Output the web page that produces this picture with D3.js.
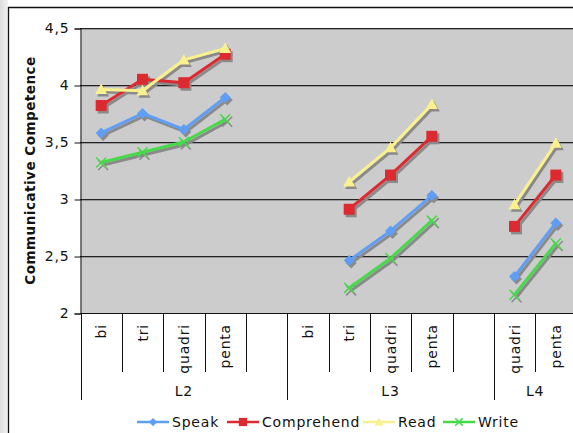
<!DOCTYPE html>
<html><head><meta charset="utf-8">
<script src="https://cdn.jsdelivr.net/npm/d3@7"></script>
<style>body{margin:0;background:#fff}svg{display:block}</style>
</head><body>
<script>
const categories = ["bi","tri","quadri","penta","","bi","tri","quadri","penta","","quadri","penta"];
const groups = [{name:"L2", start:0, end:5},{name:"L3", start:5, end:10},{name:"L4", start:10, end:12}];
const speak      = [3.58, 3.75, 3.61, 3.89, null, null, 2.46, 2.72, 3.03, null, 2.32, 2.79];
const comprehend = [3.82, 4.05, 4.02, 4.27, null, null, 2.91, 3.21, 3.55, null, 2.76, 3.21];
const read       = [3.96, 3.95, 4.22, 4.32, null, null, 3.15, 3.45, 3.83, null, 2.95, 3.49];
const write      = [3.32, 3.41, 3.50, 3.70, null, null, 2.22, 2.48, 2.81, null, 2.16, 2.61];
const yTicks = [2, 2.5, 3, 3.5, 4, 4.5];
const yTickLabels = ["2","2,5","3","3,5","4","4,5"];
const seriesNames = ["Speak","Comprehend","Read","Write"];

const series = [
  {name:seriesNames[0], values:speak, color:"#5f9ef5", shape:"diamond"},
  {name:seriesNames[1], values:comprehend, color:"#dc2a30", shape:"square"},
  {name:seriesNames[2], values:read, color:"#fbf08e", shape:"triangle"},
  {name:seriesNames[3], values:write, color:"#47d94a", shape:"x"}
];

const W = 573, H = 433;
const svg = d3.select("body").append("svg").attr("width", W).attr("height", H);
const font = "DejaVu Sans, Verdana, sans-serif";
const fs = 14, ls = 0.8;

// outer frame background
const grad = svg.append("defs").append("linearGradient").attr("id","lg").attr("x1","0").attr("x2","1");
grad.append("stop").attr("offset","0").attr("stop-color","#dcdcdc");
grad.append("stop").attr("offset","1").attr("stop-color","#f2f2f2");
svg.append("rect").attr("x",0).attr("y",0).attr("width",8).attr("height",H).attr("fill","url(#lg)");
svg.append("line").attr("x1",8.5).attr("x2",8.5).attr("y1",7).attr("y2",H).attr("stroke","#111").attr("stroke-width",1.3);
svg.append("line").attr("x1",8).attr("x2",W).attr("y1",7.5).attr("y2",7.5).attr("stroke","#111").attr("stroke-width",1.3);

const x = d3.scaleBand().domain(d3.range(categories.length)).range([80.5, 576.5]).padding(0);
const y = d3.scaleLinear().domain([2, 4.5]).range([313, 28]);

// plot area
svg.append("rect").attr("x",80.5).attr("y",y(4.5)).attr("width",500).attr("height",y(2)-y(4.5)).attr("fill","#cccccc");

// gridlines
yTicks.forEach(t => {
  if (t === 2) return;
  svg.append("line").attr("x1",80).attr("x2",W).attr("y1",y(t)+1.5).attr("y2",y(t)+1.5).attr("stroke","#999").attr("stroke-width",1);
  svg.append("line").attr("x1",80).attr("x2",W).attr("y1",y(t)+0.5).attr("y2",y(t)+0.5).attr("stroke","#222").attr("stroke-width",1);
});

// y axis
const yAxis = d3.axisLeft(y).tickValues(yTicks).tickFormat((d,i)=>yTickLabels[i]).tickSize(6).tickPadding(5);
const ya = svg.append("g").attr("transform","translate(80.5,0.5)").call(yAxis);
ya.select(".domain").attr("stroke","#111");
ya.selectAll(".tick line").attr("stroke","#111");
ya.selectAll("text").attr("font-family",font).attr("font-size",fs).attr("letter-spacing",ls).attr("fill","#111");

// x axis baseline
svg.append("line").attr("x1",80).attr("x2",W).attr("y1",313.5).attr("y2",313.5).attr("stroke","#111");

// category tick lines
const boundaries = d3.range(categories.length+1);
const groupStarts = new Set(groups.map(g=>g.start).concat([categories.length]));
boundaries.forEach(b => {
  const bx = (b < categories.length ? x(b) : x(b-1)+x.bandwidth());
  svg.append("line").attr("x1",Math.round(bx)+0.5).attr("x2",Math.round(bx)+0.5)
    .attr("y1",313).attr("y2", groupStarts.has(b) ? 400 : 372)
    .attr("stroke","#111").attr("stroke-width",1);
});

// category labels
categories.forEach((c,i) => {
  if (!c) return;
  svg.append("text")
    .attr("transform",`translate(${x(i)+x.bandwidth()/2},324) rotate(-90)`)
    .attr("text-anchor","end").attr("dy","0.36em")
    .attr("font-family",font).attr("font-size",fs).attr("letter-spacing",ls).attr("fill","#111")
    .text(c);
});

// group labels
groups.forEach(g => {
  const gx = (x(g.start) + x(g.end-1) + x.bandwidth())/2;
  svg.append("text").attr("x",gx).attr("y",396).attr("text-anchor","middle")
    .attr("font-family",font).attr("font-size",fs).attr("letter-spacing",ls).attr("fill","#111").text(g.name);
});

// y title
svg.append("text").attr("transform",`translate(35,${(y(2)+y(4.5))/2}) rotate(-90)`)
  .attr("text-anchor","middle").attr("font-family",font).attr("font-weight","bold")
  .attr("font-size",13.5).attr("letter-spacing",0.5).attr("fill","#111").text("Communicative Competence");

function marker(g, shape, cx, cy, color, scale) {
  const s = scale || 1;
  if (shape === "diamond") {
    const r = 5.5*s;
    g.append("path").attr("d",`M${cx},${cy-r}L${cx+r},${cy}L${cx},${cy+r}L${cx-r},${cy}Z`).attr("fill",color);
  } else if (shape === "square") {
    const r = 5.5*s;
    g.append("rect").attr("x",cx-r).attr("y",cy-r).attr("width",2*r).attr("height",2*r).attr("fill",color);
  } else if (shape === "triangle") {
    const r = 6*s;
    g.append("path").attr("d",`M${cx},${cy-r}L${cx+r},${cy+r*0.75}L${cx-r},${cy+r*0.75}Z`).attr("fill",color);
  } else {
    const r = 5*s;
    g.append("path").attr("d",`M${cx-r},${cy-r}L${cx+r},${cy+r}M${cx-r},${cy+r}L${cx+r},${cy-r}`).attr("stroke",color).attr("stroke-width",1.6).attr("fill","none");
  }
}

const line = d3.line().defined(d => d.v !== null).x(d => x(d.i)+x.bandwidth()/2).y(d => y(d.v));

// shadows
const shadowG = svg.append("g").attr("transform","translate(2,2.5)");
series.forEach(s => {
  const pts = s.values.map((v,i)=>({v,i}));
  shadowG.append("path").attr("d",line(pts)).attr("fill","none").attr("stroke","#8a8a8a").attr("stroke-width",3);
  pts.filter(p=>p.v!==null).forEach(p => marker(shadowG, s.shape, x(p.i)+x.bandwidth()/2, y(p.v), "#8a8a8a"));
});
series.forEach(s => {
  const g = svg.append("g");
  const pts = s.values.map((v,i)=>({v,i}));
  g.append("path").attr("d",line(pts)).attr("fill","none").attr("stroke",s.color).attr("stroke-width",3).attr("stroke-linejoin","round");
  pts.filter(p=>p.v!==null).forEach(p => marker(g, s.shape, x(p.i)+x.bandwidth()/2, y(p.v), s.color));
});

// legend
const legendX = [137, 227, 363, 443];
series.forEach((s,i) => {
  const g = svg.append("g");
  const lx = legendX[i];
  g.append("line").attr("x1",lx).attr("x2",lx+32).attr("y1",422).attr("y2",422).attr("stroke",s.color).attr("stroke-width",2.5);
  marker(g, s.shape, lx+16, 422, s.color, 0.75);
  g.append("text").attr("x",lx+35).attr("y",427).attr("font-family",font).attr("font-size",fs)
    .attr("letter-spacing",ls).attr("fill","#111").text(s.name);
});
</script>
</body></html>
